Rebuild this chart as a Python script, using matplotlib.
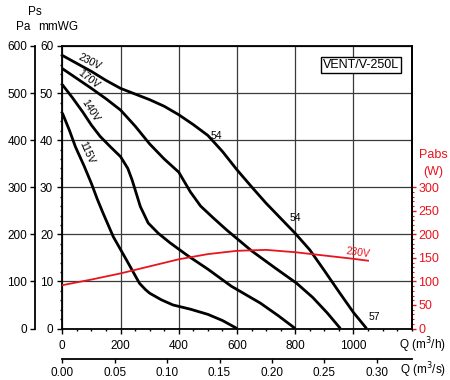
import numpy as np
import matplotlib
matplotlib.use("Agg")
import matplotlib.pyplot as plt
from matplotlib.ticker import MultipleLocator, FixedLocator

plt.rcParams['font.family'] = ['Liberation Sans', 'DejaVu Sans']
plt.rcParams['font.size'] = 8.5

# static pressure curves, Q in m3/h, Ps in mmWG
q_230 = [0, 50, 100, 150, 200, 250, 300, 350, 400, 450, 500, 550, 600, 650, 700,
         750, 800, 850, 900, 950, 1000, 1045]
ps_230 = [58, 56.3, 54.6, 52.7, 51, 49.8, 48.6, 47.2, 45.4, 43.3, 41, 37.6, 33.7, 30.1, 26.6,
          23.4, 20.2, 16.7, 12.3, 7.8, 3.4, 0]

q_170 = [0, 50, 100, 150, 200, 250, 300, 350, 400, 440, 475, 520, 565, 650, 730, 805, 860, 910, 955]
ps_170 = [55.2, 53.1, 51, 48.8, 46.4, 43, 39.2, 36, 33.2, 29, 26, 23.4, 20.9, 16.5, 12.9, 9.6, 6.6, 3.3, 0]

q_140 = [0, 35, 70, 100, 130, 165, 200, 225, 240, 255, 268, 295, 330, 370, 430, 500, 580, 680, 740, 800]
ps_140 = [51.8, 49, 46, 43.2, 40.8, 38.6, 36.5, 34, 31.5, 28.5, 25.9, 22.4, 20.2, 18.2, 15.5, 12.6,
          9.0, 5.4, 2.8, 0]

q_115 = [0, 25, 45, 75, 100, 120, 140, 175, 220, 265, 285, 300, 340, 380, 440, 500, 550, 600]
ps_115 = [45.8, 42, 38.6, 34.5, 30.8, 27.5, 24.5, 19.5, 14.6, 9.6, 8.3, 7.5, 6.1, 5, 4.1, 3.0, 1.7, 0]

# absorbed power at 230V, W
q_pw = [0, 100, 200, 300, 400, 500, 600, 700, 800, 900, 1000, 1050]
pw_230 = [92, 104, 117, 132, 147, 158, 165, 167, 162, 155, 148, 144]

x_ticks = [0, 200, 400, 600, 800, 1000]
y_ticks = [0, 10, 20, 30, 40, 50, 60]
pa_ticks = [0, 100, 200, 300, 400, 500, 600]
w_ticks = [0, 50, 100, 150, 200, 250, 300]
qs_ticks = [0.0, 0.05, 0.10, 0.15, 0.20, 0.25, 0.30]

W, H = 450, 380
PT = 0.72  # points per pixel at 100 dpi
fig = plt.figure(figsize=(W / 100, H / 100), dpi=100)
L, R, B, T = 62.3, 411.7, 328.5, 46
ax = fig.add_axes([L / W, 1 - B / H, (R - L) / W, (B - T) / H])

ax.set_xlim(0, 1200)
ax.set_ylim(0, 60)
ax.set_xticks(x_ticks)
ax.xaxis.set_minor_locator(FixedLocator(np.arange(0, 1201, 50)))
ax.set_yticks(y_ticks)
ax.yaxis.set_minor_locator(MultipleLocator(2))
ax.tick_params(which='major', direction='out', length=5 * PT, width=1, pad=3)
ax.tick_params(which='minor', direction='out', length=2.5 * PT, width=1)
ax.tick_params(axis='x', pad=5)
for s in ax.spines.values():
    s.set_linewidth(1.3)
ax.grid(True, which='major', color='#3a3a3a', lw=0.9)

for q, p in [(q_230, ps_230), (q_170, ps_170), (q_140, ps_140), (q_115, ps_115)]:
    ax.plot(q, p, color='black', lw=2, solid_capstyle='butt', solid_joinstyle='round', zorder=3)

ax.text(94, 56.6, '230V', rotation=-27, fontsize=7.5, ha='center', va='center')
ax.text(92, 53.0, '170V', rotation=-38, fontsize=7.5, ha='center', va='center')
ax.text(96, 46.2, '140V', rotation=-57, fontsize=7.5, ha='center', va='center')
ax.text(84, 37.4, '115V', rotation=-66, fontsize=7.5, ha='center', va='center')
ax.text(528, 40.8, '54', fontsize=7.5, ha='center', va='center')
ax.text(799, 23.4, '54', fontsize=7.5, ha='center', va='center')
ax.text(1070, 2.4, '57', fontsize=7.5, ha='center', va='center')
ax.text(0.965, 0.955, 'VENT/V-250L', transform=ax.transAxes, fontsize=9,
        ha='right', va='top',
        bbox=dict(boxstyle='square,pad=0.15', fc='white', ec='black', lw=1))

# Pa axis on the far left
ax_pa = ax.twinx()
ax_pa.set_ylim(0, 600)
ax_pa.set_yticks(pa_ticks)
ax_pa.yaxis.set_ticks_position('left')
for k in ['right', 'top', 'bottom']:
    ax_pa.spines[k].set_visible(False)
ax_pa.spines['left'].set_visible(True)
ax_pa.spines['left'].set_position(('outward', (L - 35) * PT))
ax_pa.spines['left'].set_linewidth(1.3)
ax_pa.tick_params(direction='out', length=5 * PT, width=1, pad=2)

# power axis on the right (red)
red = '#e8141e'
ax_w = ax.twinx()
ax_w.set_ylim(0, 600)
ax_w.set_yticks(w_ticks)
ax_w.yaxis.set_minor_locator(FixedLocator(np.arange(0, 301, 10)))
for k in ['left', 'top', 'bottom']:
    ax_w.spines[k].set_visible(False)
ax_w.spines['right'].set_linewidth(1.3)
ax_w.tick_params(which='major', direction='out', length=4 * PT, width=1, colors=red,
                 labelsize=9, pad=2)
ax_w.tick_params(which='minor', direction='out', length=2 * PT, width=0.8, colors=red)
ax_w.plot(q_pw, pw_230, color=red, lw=1.3, zorder=4)
ax_w.text(1015, 162, '230V', color=red, rotation=-8, fontsize=7.5,
          ha='center', va='center')

# second flow axis in m3/s
sec = ax.secondary_xaxis(-(359.3 - B) / (B - T), functions=(lambda q: q / 3600, lambda s: s * 3600))
sec.set_xticks(qs_ticks)
sec.set_xticklabels(['%.2f' % v for v in qs_ticks])
sec.spines['bottom'].set_linewidth(1.3)
sec.tick_params(direction='out', length=4 * PT, width=1, pad=3)

fig.text(35 / W, 1 - 12 / H, 'Ps', fontsize=8.5, ha='center', va='center')
fig.text(23 / W, 1 - 27 / H, 'Pa', fontsize=8.5, ha='center', va='center')
fig.text(58 / W, 1 - 27 / H, 'mmWG', fontsize=8.5, ha='center', va='center')
fig.text(433 / W, 1 - 155 / H, 'Pabs', fontsize=9, color=red, ha='center', va='center')
fig.text(433 / W, 1 - 172 / H, '(W)', fontsize=9, color=red, ha='center', va='center')
fig.text(446 / W, 1 - 345 / H, 'Q (m$^3$/h)', fontsize=8.5, ha='right', va='center')
fig.text(446 / W, 1 - 370 / H, 'Q (m$^3$/s)', fontsize=8.5, ha='right', va='center')

fig.savefig('out.png', dpi=100)
